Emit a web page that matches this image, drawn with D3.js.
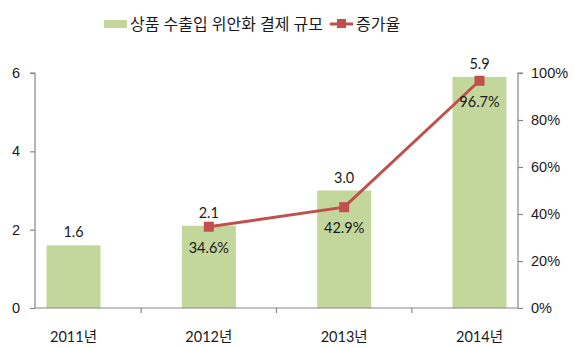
<!DOCTYPE html>
<html>
<head>
<meta charset="utf-8">
<script src="https://cdn.jsdelivr.net/npm/d3@7"></script>
<style>
  html, body { margin: 0; padding: 0; background: #fff; }
  svg { display: block; font-family: "Lato", "Noto Sans CJK KR", sans-serif; }
</style>
</head>
<body>
<svg id="chart" width="574" height="348"></svg>
<script>
// 연도별 위안화 결제 규모와 증가율
const years = ["2011년", "2012년", "2013년", "2014년"];
const amounts = [1.6, 2.1, 3.0, 5.9];
const growth = [null, 34.6, 42.9, 96.7];
const leftTicks = [0, 2, 4, 6];
const rightTicks = [0, 20, 40, 60, 80, 100];
const seriesNames = ["상품 수출입 위안화 결제 규모", "증가율"];

const barColor = "#C3D69B";
const lineColor = "#C0504D";
const axisColor = "#868686";
const textColor = "#1a1a1a";

const svg = d3.select("#chart");

const plot = { left: 35, right: 518, top: 73, bottom: 308 };

const x = d3.scalePoint().domain(years).range([73.5, 479.5]).padding(0);
const step = x.step();
const barW = 54;
const yL = d3.scaleLinear().domain([0, 6]).range([plot.bottom, plot.top]);
const yR = d3.scaleLinear().domain([0, 100]).range([plot.bottom, plot.top]);

// bars
svg.append("g").selectAll("rect").data(years).join("rect")
  .attr("x", d => x(d) - barW / 2)
  .attr("y", (d, i) => yL(amounts[i]))
  .attr("width", barW)
  .attr("height", (d, i) => yL(0) - yL(amounts[i]))
  .attr("fill", barColor);

// left axis
const gL = svg.append("g").attr("transform", `translate(${plot.left},0)`)
  .call(d3.axisLeft(yL).tickValues(leftTicks).tickSize(5).tickPadding(10).tickFormat(d3.format("d")));
// right axis
const gR = svg.append("g").attr("transform", `translate(${plot.right},0)`)
  .call(d3.axisRight(yR).tickValues(rightTicks).tickSize(5).tickPadding(8).tickFormat(d => d + "%"));
[gL, gR].forEach(g => {
  g.select(".domain").attr("stroke", axisColor).attr("stroke-width", 1.2);
  g.selectAll(".tick line").attr("stroke", axisColor).attr("stroke-width", 1.2);
  g.selectAll(".tick text").attr("fill", textColor).style("font-size", "14.5px");
});
gL.select(".domain").attr("d", `M-5,${plot.top}H0V${plot.bottom}`);
gR.select(".domain").attr("d", `M5,${plot.top}H0V${plot.bottom}`);

// bottom axis
const gB = svg.append("g");
gB.append("line")
  .attr("x1", plot.left).attr("x2", plot.right)
  .attr("y1", plot.bottom).attr("y2", plot.bottom)
  .attr("stroke", axisColor).attr("stroke-width", 1.2);
const dividers = years.slice(1).map(d => x(d) - step / 2);
gB.selectAll("line.div").data(dividers).join("line")
  .attr("class", "div")
  .attr("x1", d => d).attr("x2", d => d)
  .attr("y1", plot.bottom).attr("y2", plot.bottom + 5)
  .attr("stroke", axisColor).attr("stroke-width", 1.2);
gB.selectAll("text").data(years).join("text")
  .attr("x", d => x(d)).attr("y", 342)
  .attr("text-anchor", "middle")
  .attr("fill", textColor)
  .style("font-size", "14.5px")
  .text(d => d);

// growth line
const pts = years.map((d, i) => ({ k: d, v: growth[i] })).filter(p => p.v !== null);
svg.append("path").datum(pts)
  .attr("d", d3.line().x(p => x(p.k)).y(p => yR(p.v)))
  .attr("fill", "none").attr("stroke", lineColor).attr("stroke-width", 3);
const mk = 10;
svg.append("g").selectAll("rect").data(pts).join("rect")
  .attr("x", p => x(p.k) - mk / 2).attr("y", p => yR(p.v) - mk / 2)
  .attr("width", mk).attr("height", mk)
  .attr("fill", lineColor);

// value labels
svg.append("g").selectAll("text").data(years).join("text")
  .attr("x", d => x(d)).attr("y", (d, i) => yL(amounts[i]) - 8)
  .attr("text-anchor", "middle").attr("fill", textColor)
  .style("font-size", "14.5px")
  .text((d, i) => d3.format(".1f")(amounts[i]));
svg.append("g").selectAll("text").data(pts).join("text")
  .attr("x", p => x(p.k)).attr("y", p => yR(p.v) + 26)
  .attr("text-anchor", "middle").attr("fill", textColor)
  .style("font-size", "14.5px")
  .text(p => d3.format(".1f")(p.v) + "%");

// legend
const lg = svg.append("g");
lg.append("rect").attr("x", 104).attr("y", 20).attr("width", 23).attr("height", 8).attr("fill", barColor);
lg.append("text").attr("x", 130).attr("y", 30).attr("fill", textColor)
  .style("font-size", "16px").text(seriesNames[0]);
lg.append("line").attr("x1", 330).attr("x2", 353).attr("y1", 24).attr("y2", 24)
  .attr("stroke", lineColor).attr("stroke-width", 3);
lg.append("rect").attr("x", 337).attr("y", 19).attr("width", 9).attr("height", 9).attr("fill", lineColor);
lg.append("text").attr("x", 356).attr("y", 30).attr("fill", textColor)
  .style("font-size", "16px").text(seriesNames[1]);
</script>
</body>
</html>
